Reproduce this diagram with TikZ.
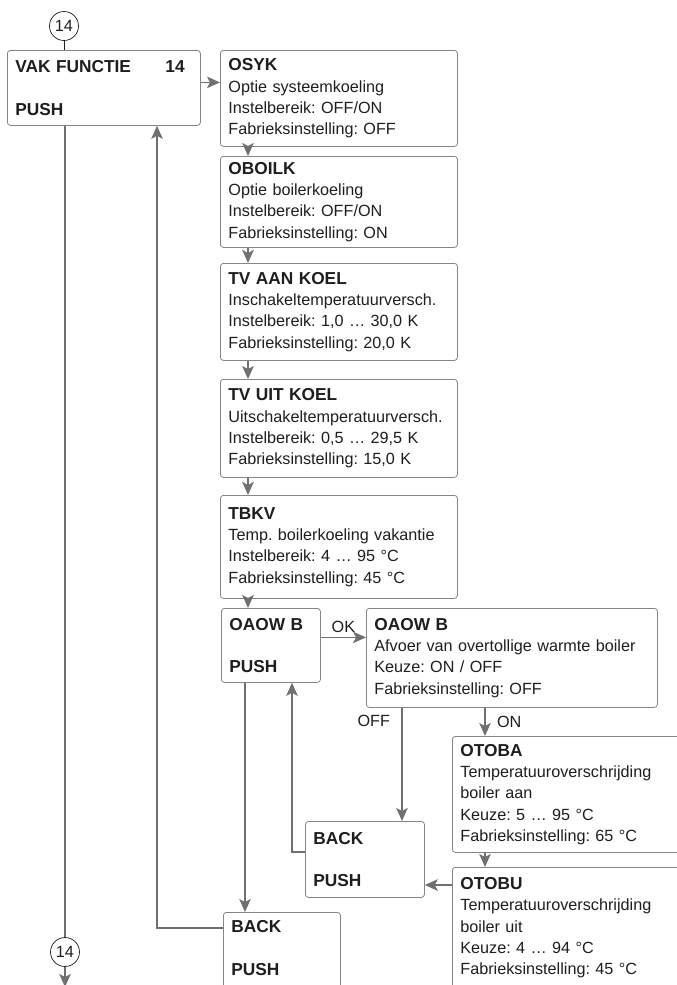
\documentclass[tikz,border=0pt]{standalone}
\usepackage{fontspec}
\setmainfont{Liberation Sans}
\usetikzlibrary{arrows.meta}
\definecolor{linegray}{HTML}{707070}
\definecolor{boxgray}{HTML}{858585}
\definecolor{inkgray}{HTML}{1E1E1E}
\newcommand{\ttl}[1]{{\fontsize{17.3}{21.3}\selectfont\bfseries #1}}
\frenchspacing

\begin{document}
\begin{tikzpicture}[x=1pt,y=-1pt,
    every node/.style={font=\fontsize{16.2}{21.3}\selectfont, text=inkgray},
    menu/.style={draw=boxgray, line width=.8pt, rounded corners=3pt, anchor=north west,
        align=left, inner xsep=8pt, inner ysep=0pt},
    arr/.style={draw=linegray, line width=1.4pt, -{Stealth[length=13pt,width=11.5pt,inset=3pt]}},
    lin/.style={draw=linegray, line width=1.4pt},
    conn/.style={draw=inkgray, line width=.7pt, circle, minimum size=29pt, inner sep=0pt}]
    \useasboundingbox (0,0) rectangle (677,985);
    % menu boxes
    \node[conn] (c1) at (64,26) {14};
    \node[menu, text width=177pt, minimum height=75pt] (vak) at (7,50)
        {\makebox[150pt][l]{\ttl{VAK FUNCTIE}}\ttl{14}\\[21.3pt]\ttl{PUSH}};
    \node[menu, text width=221pt, minimum height=96pt] (osyk) at (220,50)
        {\ttl{OSYK}\\Optie systeemkoeling\\Instelbereik: OFF/ON\\Fabrieksinstelling: OFF};
    \node[menu, text width=221pt, minimum height=91pt] (oboilk) at (220,156)
        {\ttl{OBOILK}\\Optie boilerkoeling\\Instelbereik: OFF/ON\\Fabrieksinstelling: ON};
    \node[menu, text width=221pt, minimum height=97pt] (tvaan) at (220,263)
        {\ttl{TV AAN KOEL}\\Inschakeltemperatuurversch.\\Instelbereik: 1,0 … 30,0 K\\Fabrieksinstelling: 20,0 K};
    \node[menu, text width=221pt, minimum height=98pt] (tvuit) at (220,379)
        {\ttl{TV UIT KOEL}\\Uitschakeltemperatuurversch.\\Instelbereik: 0,5 … 29,5 K\\Fabrieksinstelling: 15,0 K};
    \node[menu, text width=221pt, minimum height=103pt] (tbkv) at (220,495)
        {\ttl{TBKV}\\Temp. boilerkoeling vakantie\\Instelbereik: 4 … 95 °C\\Fabrieksinstelling: 45 °C};
    \node[menu, text width=83pt, minimum height=74pt] (oaowb) at (221,608)
        {\ttl{OAOW B}\\[21.3pt]\ttl{PUSH}};
    \node[menu, text width=275pt, minimum height=99pt] (keuze) at (366,608)
        {\ttl{OAOW B}\\Afvoer van overtollige warmte boiler\\Keuze: ON / OFF\\Fabrieksinstelling: OFF};
    \node[menu, text width=234pt, minimum height=116pt] (otoba) at (452,736)
        {\ttl{OTOBA}\\Temperatuuroverschrijding\\boiler aan\\Keuze: 5 … 95 °C\\Fabrieksinstelling: 65 °C};
    \node[menu, text width=234pt, minimum height=160pt] (otobu) at (452,867)
        {\ttl{OTOBU}\\Temperatuuroverschrijding\\boiler uit\\Keuze: 4 … 94 °C\\Fabrieksinstelling: 45 °C\\[21.3pt]\mbox{}};
    \node[menu, text width=103pt, minimum height=76pt] (back1) at (305,821)
        {\ttl{BACK}\\[21.3pt]\ttl{PUSH}};
    \node[menu, text width=101pt, minimum height=114pt] (back2) at (223,912)
        {\ttl{BACK}\\[21.3pt]\ttl{PUSH}\\[21.3pt]\mbox{}};
    \node[conn] (c2) at (65,952) {14};
    % x positions of the vertical connectors
    \coordinate (col) at (248,0);
    \coordinate (on) at (485,0);
    \coordinate (off) at (402,0);
    \coordinate (upx) at (292,0);
    \coordinate (dnx) at (245,0);
    \coordinate (leftx) at (157,0);
    \coordinate (out) at (65,987);
    % connectors
    \draw[draw=inkgray, line width=.7pt] (c1) -- (c1 |- vak.north);
    \draw[arr] ([yshift=5.5pt]vak.east) -- ([yshift=5.5pt]vak.east -| osyk.west);
    \foreach \a/\b in {osyk/oboilk, oboilk/tvaan, tvaan/tvuit, tvuit/tbkv, tbkv/oaowb}
        \draw[arr] (col |- \a.south) -- (col |- \b.north);
    \draw[arr] ([yshift=8pt]oaowb.east) -- ([yshift=8pt]oaowb.east -| keuze.west)
        node[midway, above=1pt] {OK};
    \draw[arr] (on |- keuze.south) -- (on |- otoba.north) node[midway, right=8pt] {ON};
    \draw[arr] (off |- keuze.south) -- (off |- back1.north) node[pos=.12, left=8pt] {OFF};
    \draw[arr] (on |- otoba.south) -- (on |- otobu.north);
    \draw[arr] ([yshift=-18pt]otobu.north west) -- ([yshift=-18pt]otobu.north west -| back1.east);
    \draw[arr] ([yshift=-31pt]back1.north west) -| (upx |- oaowb.south);
    \draw[arr] (dnx |- oaowb.south) -- (dnx |- back2.north);
    \draw[arr] ([yshift=-16pt]back2.north west) -| (leftx |- vak.south);
    \draw[lin] (c2 |- vak.south) -- (c2);
    \draw[arr] (c2) -- (out);
\end{tikzpicture}
\end{document}
